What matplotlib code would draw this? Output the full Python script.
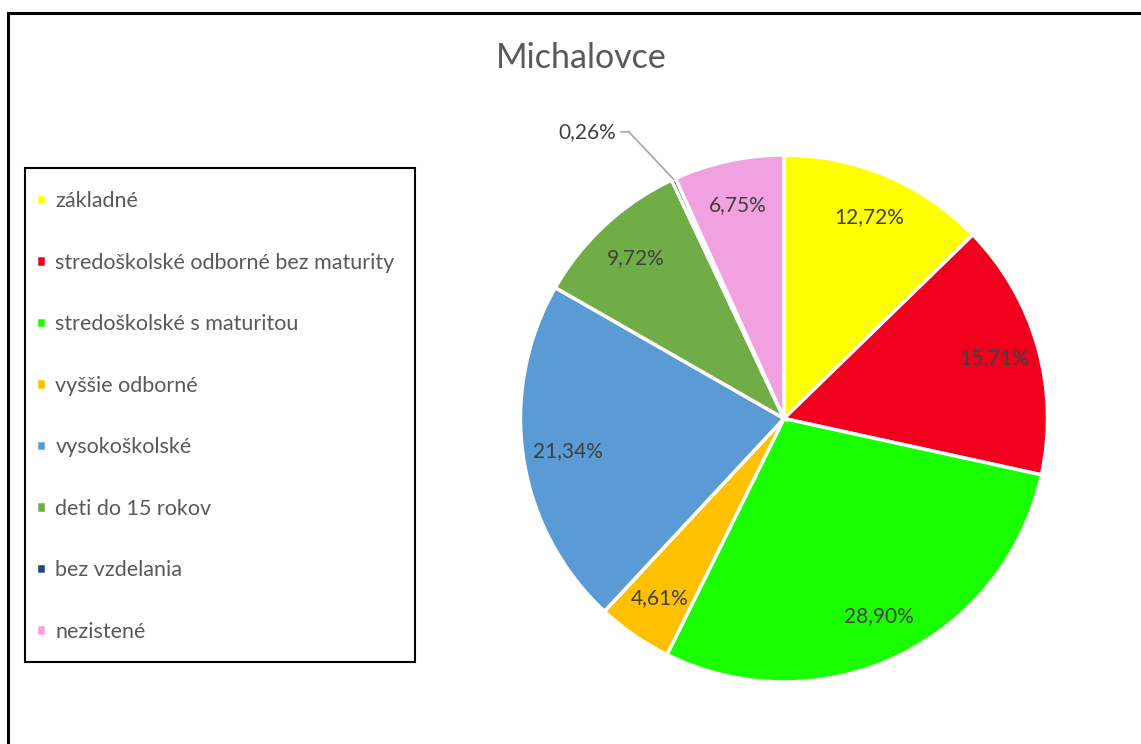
import numpy as np
import matplotlib.pyplot as plt
from matplotlib.patches import Rectangle

plt.rcParams['font.family'] = ['Lato', 'DejaVu Sans']

# data
categories = ["základné", "stredoškolské odborné bez maturity", "stredoškolské s maturitou",
              "vyššie odborné", "vysokoškolské", "deti do 15 rokov", "bez vzdelania", "nezistené"]
shares = [12.72, 15.71, 28.90, 4.61, 21.34, 9.72, 0.26, 6.75]
colors = ["#FFFF00", "#F0001C", "#1AFF00", "#FFC000", "#5B9BD5", "#70AD47", "#264478", "#F1A1E0"]
title = "Michalovce"

text_col = "#595959"

W, H = 1141, 744
fig = plt.figure(figsize=(W / 100, H / 100), dpi=100)

# outer frame (only left/top edges visible in the crop)
fig.patches.append(Rectangle((8 / W, -0.1), 1.2, (H - 13) / H + 0.1, transform=fig.transFigure,
                             fill=False, edgecolor="black", linewidth=2.2, zorder=0))

cx, cy, R = 784, H - 418.5, 263.5
span = 1.1
side = 2 * span * R
ax = fig.add_axes([(cx - side / 2) / W, (cy - side / 2) / H, side / W, side / H])

wedges, _ = ax.pie(shares, colors=colors, startangle=90, counterclock=False,
                   wedgeprops=dict(edgecolor="white", linewidth=2.5))
ax.set_xlim(-span, span)
ax.set_ylim(-span, span)
ax.set_aspect("equal")
ax.axis("off")

for w, v in zip(wedges, shares):
    ang = np.deg2rad((w.theta1 + w.theta2) / 2)
    lbl = f"{v:.2f}%".replace(".", ",")
    if v < 1:
        ex, ey = np.cos(ang) * 1.0, np.sin(ang) * 1.0
        kx, ky = ex - 0.17, ey + 0.18
        ax.plot([ex, kx, kx - 0.03], [ey, ky, ky], color="#A6A6A6", linewidth=1.2, clip_on=False)
        ax.text(kx - 0.05, ky, lbl, ha="right", va="center", fontsize=15, color="#404040")
    else:
        r = 0.83
        ax.text(np.cos(ang) * r, np.sin(ang) * r, lbl, ha="center", va="center",
                fontsize=15, color="#404040")

fig.text(581 / W, 1 - 58 / H, title, ha="center", va="center", fontsize=24.5, color=text_col)

# legend box
fig.patches.append(Rectangle((25 / W, 1 - 662 / H), 390 / W, 494 / H, transform=fig.transFigure,
                             fill=False, edgecolor="black", linewidth=1.5))
leg = fig.legend(wedges, categories, loc="upper left", bbox_to_anchor=(36 / W, 1 - 191 / H),
                 fontsize=15.5, labelspacing=1.93, handlelength=0.45, handleheight=0.45,
                 handletextpad=0.45, borderpad=0, borderaxespad=0, frameon=False)
for t in leg.get_texts():
    t.set_color(text_col)

fig.savefig("out.png", dpi=100)
